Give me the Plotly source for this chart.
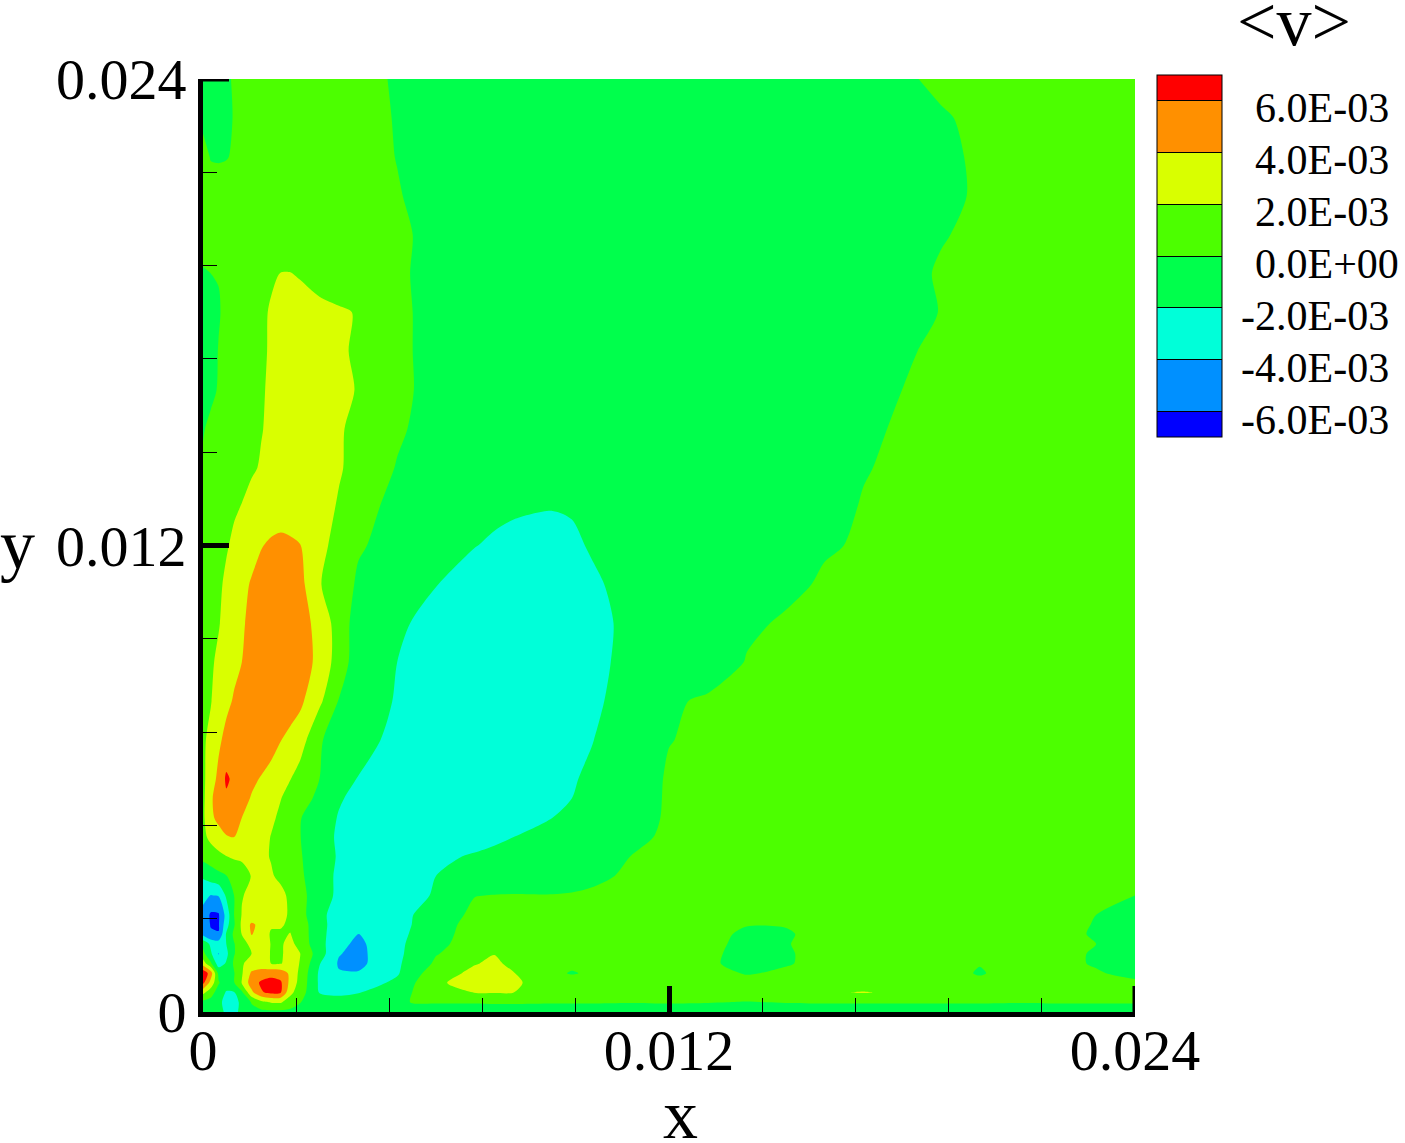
import numpy as np
import plotly.graph_objects as go

# grid, in units of 1e-3
x_grid = [0, .2, .4, .6, .8, 1, 1.25, 1.5, 1.75, 2, 2.25, 2.5,
          3, 3.5, 4, 5, 6, 7, 7.5, 8, 9, 9.5, 10,
          11, 12, 13, 14, 15, 16, 17, 18, 19, 20, 21, 22, 23, 24]
y_grid = [24, 23, 22, 21, 20, 19, 18, 17, 16, 15, 14, 13, 12, 11, 10, 9, 8, 7, 6,
          5.5, 5, 4.5, 4, 3.5, 3, 2.5, 2.25, 2, 1.75, 1.5, 1.25, 1, .75, .5, .25, 0]

# <v>, in units of 1e-3, top row first
v_rows = [
    [-.2, -.5, -.4, -.15, .1, .3, .4, .5, .5, .5, .5, .5, .4, .35, .3, -.1, -.3, -.4, -.4, -.4, -.4, -.4, -.4, -.4, -.4, -.4, -.4, -.4, -.4, -.3, -.15, .2, .3, .4, .4, .4, .4],
    [-.2, -.5, -.4, -.2, .05, .3, .4, .5, .5, .5, .5, .5, .4, .35, .3, -.05, -.3, -.4, -.4, -.4, -.4, -.4, -.4, -.4, -.4, -.4, -.4, -.4, -.4, -.4, -.3, -.1, .2, .4, .4, .4, .4],
    [.3, -.05, -.1, -.05, .1, .3, .4, .5, .55, .6, .6, .6, .5, .4, .3, -.02, -.3, -.4, -.45, -.45, -.5, -.5, -.5, -.5, -.5, -.5, -.5, -.5, -.5, -.5, -.4, -.3, .2, .3, .4, .4, .4],
    [.4, .4, .5, .5, .5, .6, .7, .8, .8, .8, .8, .8, .7, .6, .5, .05, -.3, -.5, -.55, -.6, -.6, -.6, -.6, -.6, -.6, -.6, -.6, -.6, -.6, -.6, -.5, -.4, .2, .3, .4, .4, .4],
    [.5, .5, .6, .6, .7, .8, .9, 1, 1, 1.05, 1.05, 1.05, .95, .8, .6, .2, -.3, -.6, -.65, -.7, -.7, -.7, -.7, -.7, -.7, -.7, -.7, -.7, -.7, -.7, -.5, -.1, .3, .4, .4, .4, .4],
    [-.1, 0, .05, .3, .7, 1.1, 1.4, 1.6, 1.85, 2.02, 2.03, 1.9, 1.4, 1, .7, .1, -.2, -.6, -.7, -.8, -.8, -.8, -.8, -.8, -.8, -.8, -.8, -.8, -.8, -.8, -.5, .15, .3, .4, .4, .4, .4],
    [-.3, -.6, -.1, .3, .5, .9, 1.5, 1.8, 2.1, 2.4, 2.45, 2.5, 2.4, 2.2, 1.9, .2, -.3, -.8, -.9, -1, -1, -1, -1, -1, -1, -1, -.9, -.9, -.9, -.9, -.6, .05, .3, .4, .4, .4, .4],
    [-.3, -.5, .05, .3, .6, 1.1, 1.6, 1.85, 2.1, 2.5, 2.55, 2.6, 2.6, 2.4, 1.6, .2, -.3, -.9, -1, -1.1, -1.1, -1.1, -1.1, -1.1, -1.1, -1.1, -1, -1, -1, -.7, -.2, .3, .4, .4, .4, .4, .4],
    [0, -.3, .1, .5, .9, 1.3, 1.6, 1.9, 2.15, 2.6, 2.75, 2.9, 2.9, 2.6, 1.85, .3, -.4, -1, -1.1, -1.2, -1.2, -1.2, -1.2, -1.2, -1.2, -1.2, -1.1, -1.1, -1.1, -.6, 0, .3, .4, .4, .4, .4, .4],
    [-.1, .3, .6, .9, 1.2, 1.4, 1.7, 1.95, 2.2, 2.7, 2.9, 3.1, 3.1, 2.2, 1.5, .25, -.7, -1.2, -1.25, -1.3, -1.3, -1.3, -1.3, -1.3, -1.3, -1.3, -1.2, -1.1, -.9, -.4, .25, .4, .4, .4, .4, .4, .4],
    [.2, .5, .8, 1.1, 1.3, 1.5, 1.85, 2.1, 2.5, 3.1, 3.3, 3.5, 3.5, 2.2, 1.3, -.1, -.8, -1.3, -1.4, -1.5, -1.6, -1.6, -1.6, -1.5, -1.5, -1.5, -1.4, -1.3, -.6, -.1, .3, .4, .4, .4, .4, .4, .4],
    [.5, .8, 1.1, 1.4, 1.8, 2.05, 2.4, 2.7, 2.9, 3, 3.05, 3.1, 2.9, 1.8, .5, -.4, -1.2, -1.6, -1.75, -1.85, -1.95, -1.9, -1.8, -1.6, -1.5, -1.5, -1.4, -1.3, -.6, .1, .35, .4, .4, .4, .4, .4, .4],
    [.6, .9, 1.3, 1.85, 2.3, 2.7, 3.2, 3.9, 4.3, 4.5, 4.3, 4.05, 2.4, 1.5, .2, -.7, -1.5, -1.97, -2.15, -2.3, -2.4, -2.2, -1.9, -1.6, -1.5, -1.5, -1.3, -1.1, -.15, .15, .35, .4, .4, .4, .4, .4, .4],
    [.7, 1.2, 1.7, 2.3, 2.9, 3.4, 4.2, 4.8, 5.1, 5.2, 4.9, 4.6, 2.1, 1.1, -.3, -1.2, -1.97, -2.5, -2.6, -2.7, -2.6, -2.45, -2.2, -1.6, -1.5, -1.4, -1.2, -.4, .2, .35, .4, .4, .4, .4, .4, .4, .4],
    [.8, 1.3, 1.85, 2.7, 3.3, 3.8, 4.4, 5, 5.3, 5.4, 5.2, 5, 3.2, 1.2, -1, -1.8, -2.4, -2.8, -2.9, -3, -3, -2.75, -2.4, -1.7, -1.4, -1.2, -.3, .2, .35, .4, .4, .4, .4, .4, .4, .4, .4],
    [1.2, 1.7, 2.4, 3, 3.5, 4, 4.5, 5, 5.4, 5.5, 5.3, 5.1, 3.4, 1.1, -1.1, -2, -2.7, -3.1, -3.2, -3.3, -3.2, -2.8, -2.4, -1.6, -1.4, -1.2, .1, .25, .35, .4, .4, .4, .4, .4, .4, .4, .4],
    [1.5, 1.9, 2.9, 3.5, 4.2, 4.6, 5, 5.3, 5.5, 5.4, 4.9, 4.4, 2.4, -.1, -1.3, -2.1, -3, -3.4, -3.45, -3.5, -3.4, -2.8, -2.2, -1.6, -.3, .3, .35, .4, .4, .4, .4, .4, .4, .4, .4, .4, .4],
    [1.7, 2.5, 3.6, 4.6, 5, 5.1, 5.2, 5, 4.7, 4.05, 3.5, 2.9, .2, -.9, -1.6, -2.3, -3, -3.4, -3.5, -3.6, -3.2, -2.6, -2.05, -1.3, -.05, .3, .35, .4, .4, .4, .4, .4, .4, .4, .4, .4, .4],
    [1.6, 3, 4.5, 6.3, 5.6, 5, 4.3, 3.9, 3.4, 2.9, 2.05, 1.2, 0, -1.1, -2.05, -2.6, -3.1, -3.4, -3.45, -3.5, -2.4, -2.1, -1.8, -1.1, .2, .3, .35, .4, .4, .4, .4, .4, .4, .4, .4, .4, .4],
    [1.5, 3.7, 4.9, 5.7, 5.3, 4.5, 3.9, 3.5, 3, 2.05, 1.45, .9, -.5, -1.85, -2.4, -2.8, -3.1, -3.3, -3.25, -3.2, -2.3, -2, -1.7, -.9, .2, .3, .35, .4, .4, .4, .4, .4, .4, .4, .4, .4, .4],
    [1.6, 3.6, 4.5, 4.8, 4.6, 4, 3.6, 3.1, 2.3, 1.7, .9, .1, -1.2, -2.1, -2.5, -2.8, -2.9, -2.8, -2.65, -2.5, -2, -1.75, -1.5, -.7, .2, .3, .35, .4, .4, .4, .4, .4, .4, .4, .4, .4, .4],
    [1.5, 2.5, 3.2, 3.9, 4, 3.5, 3.1, 2.6, 1.95, 1.3, .7, .05, -1.4, -2.2, -2.5, -2.6, -2.6, -2.4, -2.2, -2, -1.6, -1.4, -1.2, -.3, .2, .3, .35, .4, .4, .4, .4, .4, .4, .4, .4, .4, .4],
    [.6, 1, 1.5, 1.95, 2.3, 2.4, 2.5, 2.4, 1.9, 1.4, .8, .2, -1.5, -2.1, -2.4, -2.4, -2.2, -1.9, -1.75, -1.6, -1.3, -1.05, -.8, 0, .2, .3, .35, .4, .4, .4, .4, .4, .4, .4, .4, .4, .4],
    [-1.7, -1, -.5, -.05, .4, 1, 2.1, 2.6, 2.2, 1.6, 1, .4, -1.5, -2.2, -2.5, -2.3, -2, -1.6, -1.45, -1.3, -.9, -.6, -.3, .2, .3, .3, .35, .4, .4, .4, .4, .4, .4, .4, .4, .4, .4],
    [-3.6, -4.05, -3.9, -1.7, 0, 1.9, 2.4, 2.9, 3, 2.5, 1.6, .7, -1.3, -2.3, -2.7, -2.5, -1.9, -.05, .05, .1, .05, .1, .2, .3, .35, .35, .35, .4, .4, .4, .4, .4, .4, .4, .4, .3, 0],
    [-4.4, -6.3, -6.2, -3.3, 0, 2.1, 2.7, 3.1, 3, 2.6, 1.7, .8, -1.7, -2.5, -2.9, -2.5, -1.3, .5, .5, .5, .5, .5, .45, .4, .4, .4, .4, .4, .4, .4, .4, .4, .4, .4, .4, 0, -.4],
    [-5, -6.1, -6.2, -2.8, -.2, 2.4, 4.3, 3.5, 2.2, 2.15, 1.75, 1.2, -1.6, -2.6, -3.3, -2.6, -1, .8, .7, .6, .6, .55, .5, .4, .4, .4, .05, .05, .4, .4, .4, .4, .4, .4, .3, -.05, -.5],
    [-4.5, -5.8, -5.9, -1.8, .4, 2.05, 4.1, 3.2, 1.8, 1.8, 2.05, 1.2, -1.5, -2.9, -4.05, -2.5, -.8, .9, .8, .7, .6, .55, .5, .4, .4, .35, -.2, -.1, .3, .4, .4, .4, .4, .4, .3, -.1, -.5],
    [-.5, -2.4, -2.9, -2, -.1, 1.1, 2.6, 2.8, 1.95, 1.75, 2.6, 1.2, -1.3, -3.5, -4.4, -2.4, -.5, .9, 1.2, .9, .7, .6, .5, .4, .4, .3, -.3, -.05, .3, .4, .4, .4, .4, .4, .3, 0, -.6],
    [.6, -1.7, -4.1, -2.5, -.1, .9, 2, 2.9, 1.9, 1.7, 2.9, 2.05, -1.1, -3.9, -4.5, -2.4, -.1, 1, 1.95, 1.2, .8, .7, .6, .4, .4, .25, -.4, -.1, .3, .4, .4, .4, .4, .4, .3, -.1, -.6],
    [3, .3, -3, -1.8, .3, 1.8, 2.7, 2.6, 2, 1.85, 3, 1.9, -1.9, -4.2, -4.5, -2.3, .3, 1.9, 2.3, 1.6, .8, .3, .5, .4, .4, .2, -.4, -.1, .35, .4, .4, .4, .05, .3, .3, -.1, -.6],
    [7.5, 5, -.5, -1.4, -.1, 1.8, 4.3, 5, 5.3, 5.1, 3.6, 1.5, -2.3, -3.85, -3.85, -2.2, 1.2, 2.4, 2.5, 2.05, .3, -.1, .2, .5, .5, .5, -.1, .2, .5, .5, .5, .5, -.1, .5, .4, .1, -.3],
    [6.5, 3.3, .2, -1.2, -.1, 2.1, 5, 6.3, 6.8, 6.3, 3.4, 1.3, -2.3, -3, -3, -1.6, 1.8, 2.5, 2.6, 2.3, 1, .6, .6, .6, .6, .6, .5, .6, .8, 1.2, 1, .6, .3, .5, .5, .4, .2],
    [2.5, .9, -1, -2.15, -2.15, -.4, 3.5, 5.8, 6.4, 6.1, 2.5, .9, -2.1, -2.5, -2.1, -.5, .8, 2.05, 2.1, 2, .9, .7, .6, .6, .6, .6, .6, .6, 1.8, 2.1, 1.7, .8, .5, .5, .5, .5, .5],
    [-.6, -.8, -1.6, -2.5, -2.6, -1.6, .1, 1.4, 2.1, 2.2, 1, .05, -.8, -1, -.9, -.05, .1, .1, .15, .15, .1, .1, .1, .05, .1, .05, -.05, .05, .1, .1, .1, .1, .1, .05, .1, .1, .1],
    [-.4, -.5, -1.2, -2.4, -2.5, -1.5, -.5, -.5, -.5, -.5, -.5, -.5, -.6, -.7, -.7, -.7, -.7, -.7, -.7, -.7, -.7, -.7, -.7, -.7, -.7, -.7, -.7, -.7, -.7, -.7, -.7, -.7, -.7, -.7, -.7, -.7, -.7],
]

levels = [-6, -4, -2, 0, 2, 4, 6]
level_labels = ["-6.0E-03", "-4.0E-03", "-2.0E-03", "0.0E+00", "2.0E-03", "4.0E-03", "6.0E-03"]
band_colors = ["#0000ff", "#0090ff", "#00ffd9", "#00ff4c", "#4cff00", "#d9ff00", "#ff9000", "#ff0000"]
axis_ticks = [0, 0.012, 0.024]
axis_tick_labels = ["0", "0.012", "0.024"]

for row in v_rows:
    assert len(row) == len(x_grid), row
assert len(v_rows) == len(y_grid)

x = np.array(x_grid[:]) * 1e-3
y = np.array(y_grid[::-1]) * 1e-3
z = np.array(v_rows[::-1]) * 1e-3

colorscale = [[i / (len(band_colors) - 1), c] for i, c in enumerate(band_colors)]

W, H = 1405, 1143
LEFT, RIGHT, TOP, BOTTOM = 203, 1135, 79, 1012
serif = "Liberation Serif"

fig = go.Figure(
    go.Contour(
        x=x,
        y=y,
        z=z,
        colorscale=colorscale,
        contours=dict(start=-6e-3, end=6e-3, size=2e-3, coloring="fill", showlines=False),
        line=dict(width=0, smoothing=0.8),
        colorbar=dict(
            x=(1157 - LEFT) / (RIGHT - LEFT),
            xanchor="left",
            y=(BOTTOM - 75) / (BOTTOM - TOP),
            yanchor="top",
            len=362,
            lenmode="pixels",
            thickness=65,
            thicknessmode="pixels",
            xpad=0,
            ypad=0,
            outlinewidth=1,
            outlinecolor="black",
            ticks="inside",
            ticklen=65,
            tickwidth=1,
            tickcolor="black",
            tickmode="array",
            tickvals=[v * 1e-3 for v in levels],
            showticklabels=False,
        ),
    )
)

axis_style = dict(
    range=[0, 0.024],
    showgrid=False,
    zeroline=False,
    showline=True,
    linewidth=5,
    linecolor="black",
    ticks="inside",
    ticklen=26,
    tickwidth=5,
    tickcolor="black",
    tickmode="array",
    tickvals=axis_ticks,
    ticktext=axis_tick_labels,
    tickfont=dict(family=serif, size=58, color="black"),
    minor=dict(
        ticks="inside",
        tick0=0,
        dtick=0.0024,
        ticklen=14,
        tickwidth=1,
        tickcolor="black",
    ),
)

fig.update_layout(
    width=W,
    height=H,
    autosize=False,
    margin=dict(l=LEFT, r=W - RIGHT, t=TOP, b=H - BOTTOM, autoexpand=False),
    paper_bgcolor="white",
    plot_bgcolor="white",
    xaxis=dict(**axis_style, ticklabelstandoff=-17),
    yaxis=dict(**axis_style),
    showlegend=False,
)

# plotly leaves out inside ticks at the very end of an axis, so draw those two
tick_w = 0.024 * 26 / (RIGHT - LEFT)
fig.add_shape(type="line", x0=0.024, x1=0.024, y0=0, y1=tick_w, line=dict(color="black", width=5))
fig.add_shape(type="line", x0=0, x1=tick_w, y0=0.024, y1=0.024, line=dict(color="black", width=5))


def page_label(text, px, py, size, anchor="center"):
    # paper coordinates span the plot area, so convert from page pixels
    fig.add_annotation(
        text=text,
        x=(px - LEFT) / (RIGHT - LEFT),
        y=(BOTTOM - py) / (BOTTOM - TOP),
        xref="paper",
        yref="paper",
        showarrow=False,
        xanchor=anchor,
        yanchor="middle",
        font=dict(family=serif, size=size, color="black"),
    )


page_label("y", 17, 544, 70)
page_label("x", 680, 1114, 70)
page_label("&lt;v&gt;", 1294, 22, 70)

label_y = [420, 368, 316, 264, 212, 160, 108]
for text, py in zip(level_labels, label_y):
    page_label(text, 1239 if text.startswith("-") else 1253, py, 42, anchor="left")

fig.write_html(
    "out.html",
    config=dict(displayModeBar=False),
    post_script="document.body.style.margin = '0';",
)
